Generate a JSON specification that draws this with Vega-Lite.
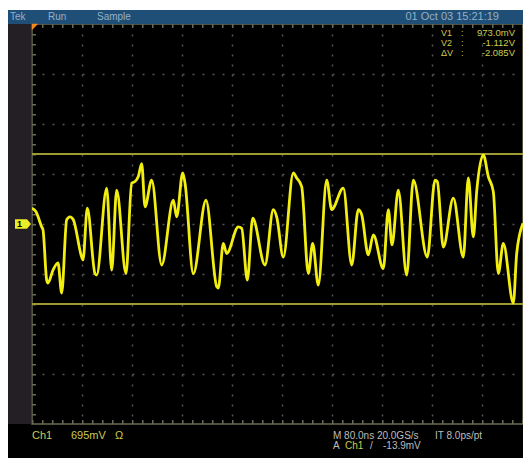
{
  "$schema": "https://vega.github.io/schema/vega-lite/v6.json",
  "width": 491,
  "height": 400,
  "autosize": {"type": "none"},
  "padding": {"left": 32, "top": 24, "right": 0, "bottom": 34},
  "background": "#000000",
  "config": {
    "view": {"stroke": "#6e6c52", "strokeWidth": 1.5, "fill": "#000000"},
    "axis": {"labels": false, "ticks": false, "domain": false, "titleOpacity": 0, "grid": true, "gridColor": "#555555", "gridDash": [2, 8], "gridWidth": 1.5},
    "text": {"font": "Liberation Sans Narrow, Liberation Sans"}
  },
  "datasets": {
    "wave": [
      {"t": 0, "v": 0.22}, {"t": 6.4, "v": 0.17}, {"t": 15.5, "v": -0.04}, {"t": 17.6, "v": -0.08},
      {"t": 23.5, "v": -0.78}, {"t": 25.6, "v": -0.82}, {"t": 33.6, "v": -0.64}, {"t": 41.6, "v": -0.54},
      {"t": 47.5, "v": -0.96}, {"t": 55.5, "v": 0.06}, {"t": 60.8, "v": 0.1}, {"t": 66.1, "v": 0.06},
      {"t": 79.5, "v": -0.46}, {"t": 81.6, "v": -0.5}, {"t": 88.5, "v": 0.22}, {"t": 100.8, "v": -0.69},
      {"t": 103.5, "v": -0.71}, {"t": 119.5, "v": 0.5}, {"t": 127.5, "v": -0.64}, {"t": 135.5, "v": 0.47},
      {"t": 150.4, "v": -0.69}, {"t": 159.5, "v": 0.57}, {"t": 164.8, "v": 0.59}, {"t": 170.1, "v": 0.66},
      {"t": 175.5, "v": 0.84}, {"t": 180.8, "v": 0.24}, {"t": 191.5, "v": 0.61}, {"t": 207.5, "v": -0.57},
      {"t": 226.1, "v": 0.33}, {"t": 231.5, "v": 0.1}, {"t": 241.1, "v": 0.71}, {"t": 244.8, "v": 0.57},
      {"t": 258.1, "v": -0.69}, {"t": 278.4, "v": 0.33}, {"t": 295.5, "v": -0.87}, {"t": 298.1, "v": -0.89},
      {"t": 306.1, "v": -0.27}, {"t": 311.5, "v": -0.41}, {"t": 330.1, "v": -0.04}, {"t": 335.5, "v": -0.06},
      {"t": 344.5, "v": -0.78}, {"t": 353.1, "v": 0.08}, {"t": 372.8, "v": -0.57}, {"t": 386.1, "v": 0.2},
      {"t": 391.5, "v": 0.1}, {"t": 402.1, "v": -0.46}, {"t": 418.1, "v": 0.71}, {"t": 423.5, "v": 0.64},
      {"t": 431.5, "v": 0.52}, {"t": 442.1, "v": -0.69}, {"t": 449.1, "v": -0.27}, {"t": 458.1, "v": -0.85},
      {"t": 471.5, "v": 0.61}, {"t": 479.5, "v": 0.2}, {"t": 498.1, "v": 0.5}, {"t": 511.5, "v": -0.57},
      {"t": 522.1, "v": 0.2}, {"t": 527.5, "v": 0.13}, {"t": 538.1, "v": -0.43}, {"t": 546.1, "v": -0.15},
      {"t": 562.1, "v": -0.62}, {"t": 570.1, "v": 0.2}, {"t": 576, "v": -0.29}, {"t": 586.1, "v": 0.47},
      {"t": 599.5, "v": -0.71}, {"t": 610.1, "v": 0.61}, {"t": 632.5, "v": -0.46}, {"t": 644.8, "v": 0.61},
      {"t": 648.5, "v": 0.59}, {"t": 658.1, "v": -0.32}, {"t": 674.1, "v": 0.36}, {"t": 690.1, "v": -0.46},
      {"t": 698.1, "v": 0.64}, {"t": 706.1, "v": -0.18}, {"t": 711.5, "v": 0.45}, {"t": 722.1, "v": 0.96},
      {"t": 730.1, "v": 0.66}, {"t": 738.1, "v": 0.45}, {"t": 746.1, "v": -0.69}, {"t": 754.1, "v": -0.27},
      {"t": 770.1, "v": -1.1}, {"t": 775.5, "v": -0.41}, {"t": 785.6, "v": 0.01}
    ],
    "cursors": [{"cursor": "V1", "level": 0.973}, {"cursor": "V2", "level": -1.112}],
    "one": [{}]
  },
  "layer": [
    {
      "data": {"name": "one"},
      "mark": {"type": "rect", "fill": "#ffffff", "clip": false},
      "encoding": {"x": {"datum": -60}, "x2": {"datum": 800}, "y": {"datum": 3.3}, "y2": {"datum": 2.9746}}
    },
    {
      "data": {"name": "one"},
      "mark": {"type": "rect", "fill": "#ffffff", "clip": false},
      "encoding": {"x": {"datum": -60}, "x2": {"datum": -38.4}, "y": {"datum": 3.3}, "y2": {"datum": -3.4}}
    },
    {
      "data": {"name": "one"},
      "mark": {"type": "rect", "fill": "#1f4e76", "clip": false},
      "encoding": {"x": {"datum": -38.4}, "x2": {"datum": 800}, "y": {"datum": 2.9746}, "y2": {"datum": 2.78}}
    },
    {
      "data": {"name": "one"},
      "mark": {"type": "rect", "fill": "#231f24", "clip": false},
      "encoding": {"x": {"datum": -38.4}, "x2": {"datum": -1}, "y": {"datum": 2.78}, "y2": {"datum": -2.78}}
    },
    {
      "data": {"name": "one"},
      "mark": {"type": "rule", "stroke": "#6a6a58", "strokeWidth": 8, "strokeDash": [1.5, 8.5], "clip": true},
      "encoding": {"x": {"datum": 0}, "x2": {"datum": 785.6}, "y": {"datum": 2.78}}
    },
    {
      "data": {"name": "one"},
      "mark": {"type": "rule", "stroke": "#6a6a58", "strokeWidth": 8, "strokeDash": [1.5, 8.5], "clip": true},
      "encoding": {"x": {"datum": 0}, "x2": {"datum": 785.6}, "y": {"datum": -2.78}}
    },
    {
      "data": {"name": "one"},
      "mark": {"type": "rule", "stroke": "#6a6a58", "strokeWidth": 8, "strokeDash": [1.5, 8.5], "clip": true},
      "encoding": {"x": {"datum": 0}, "y": {"datum": 2.78}, "y2": {"datum": -2.78}}
    },
    {
      "data": {"name": "cursors"},
      "mark": {"type": "rule", "stroke": "#9e9a34", "strokeWidth": 2},
      "encoding": {"y": {"field": "level", "type": "quantitative"}}
    },
    {
      "data": {"name": "wave"},
      "mark": {"type": "line", "color": "#f2ee10", "strokeWidth": 2.8, "strokeJoin": "round", "interpolate": "monotone", "clip": true},
      "encoding": {
        "x": {"field": "t", "type": "quantitative", "scale": {"domain": [0, 785.6], "nice": false, "zero": false},
              "axis": {"title": null, "values": [80, 160, 240, 320, 400, 480, 560, 640, 720]}},
        "y": {"field": "v", "type": "quantitative", "scale": {"domain": [-2.78, 2.78], "nice": false, "zero": false},
              "axis": {"title": null, "values": [-2.085, -1.39, -0.695, 0, 0.695, 1.39, 2.085]}}
      }
    },
    {
      "data": {"name": "one"},
      "mark": {"type": "point", "shape": "M -1 -1 L 1 -1 L -1 1 Z", "filled": true, "fill": "#f08a1c", "opacity": 1, "size": 40, "clip": false},
      "encoding": {"x": {"datum": 4.8}, "y": {"datum": 2.738}}
    },
    {
      "data": {"name": "one"},
      "mark": {"type": "point", "shape": "M -1 -0.6 L 0.5 -0.6 L 1 0 L 0.5 0.6 L -1 0.6 Z", "filled": true, "fill": "#ecec28", "opacity": 1, "size": 256, "clip": false},
      "encoding": {"x": {"datum": -14.4}, "y": {"datum": 0}}
    },
    {
      "data": {"name": "one"},
      "mark": {"type": "text", "text": "1", "fill": "#000000", "fontSize": 9, "fontWeight": "bold", "align": "center", "baseline": "middle", "clip": false},
      "encoding": {"x": {"datum": -20}, "y": {"datum": 0}}
    },
    {
      "data": {"name": "one"},
      "mark": {"type": "text", "text": "Tek", "fill": "#93b0c6", "fontSize": 10, "align": "left", "baseline": "middle", "clip": false},
      "encoding": {"x": {"datum": -35.2}, "y": {"datum": 2.8773}}
    },
    {
      "data": {"name": "one"},
      "mark": {"type": "text", "text": "Run", "fill": "#93b0c6", "fontSize": 10, "align": "left", "baseline": "middle", "clip": false},
      "encoding": {"x": {"datum": 25.6}, "y": {"datum": 2.8773}}
    },
    {
      "data": {"name": "one"},
      "mark": {"type": "text", "text": "Sample", "fill": "#93b0c6", "fontSize": 10, "align": "left", "baseline": "middle", "clip": false},
      "encoding": {"x": {"datum": 104}, "y": {"datum": 2.8773}}
    },
    {
      "data": {"name": "one"},
      "mark": {"type": "text", "text": "01 Oct 03 15:21:19", "fill": "#93b0c6", "fontSize": 11, "align": "right", "baseline": "middle", "clip": false},
      "encoding": {"x": {"datum": 747.2}, "y": {"datum": 2.8773}}
    },
    {
      "data": {"name": "one"},
      "mark": {"type": "text", "text": "V1", "fill": "#cccc50", "fontSize": 9, "align": "left", "baseline": "middle", "clip": false},
      "encoding": {"x": {"datum": 654.4}, "y": {"datum": 2.655}}
    },
    {
      "data": {"name": "one"},
      "mark": {"type": "text", "text": "V2", "fill": "#cccc50", "fontSize": 9, "align": "left", "baseline": "middle", "clip": false},
      "encoding": {"x": {"datum": 654.4}, "y": {"datum": 2.516}}
    },
    {
      "data": {"name": "one"},
      "mark": {"type": "text", "text": "ΔV", "fill": "#cccc50", "fontSize": 9, "align": "left", "baseline": "middle", "clip": false},
      "encoding": {"x": {"datum": 654.4}, "y": {"datum": 2.377}}
    },
    {
      "data": {"name": "one"},
      "mark": {"type": "text", "text": ":", "fill": "#cccc50", "fontSize": 9, "align": "left", "baseline": "middle", "clip": false},
      "encoding": {"x": {"datum": 686.4}, "y": {"datum": 2.655}}
    },
    {
      "data": {"name": "one"},
      "mark": {"type": "text", "text": ":", "fill": "#cccc50", "fontSize": 9, "align": "left", "baseline": "middle", "clip": false},
      "encoding": {"x": {"datum": 686.4}, "y": {"datum": 2.516}}
    },
    {
      "data": {"name": "one"},
      "mark": {"type": "text", "text": ":", "fill": "#cccc50", "fontSize": 9, "align": "left", "baseline": "middle", "clip": false},
      "encoding": {"x": {"datum": 686.4}, "y": {"datum": 2.377}}
    },
    {
      "data": {"name": "one"},
      "mark": {"type": "text", "text": "973.0mV", "fill": "#cccc50", "fontSize": 9.5, "align": "right", "baseline": "middle", "clip": false},
      "encoding": {"x": {"datum": 772.8}, "y": {"datum": 2.655}}
    },
    {
      "data": {"name": "one"},
      "mark": {"type": "text", "text": "-1.112V", "fill": "#cccc50", "fontSize": 9.5, "align": "right", "baseline": "middle", "clip": false},
      "encoding": {"x": {"datum": 772.8}, "y": {"datum": 2.516}}
    },
    {
      "data": {"name": "one"},
      "mark": {"type": "text", "text": "-2.085V", "fill": "#cccc50", "fontSize": 9.5, "align": "right", "baseline": "middle", "clip": false},
      "encoding": {"x": {"datum": 772.8}, "y": {"datum": 2.377}}
    },
    {
      "data": {"name": "one"},
      "mark": {"type": "text", "text": "Ch1", "fill": "#cccc50", "fontSize": 11, "align": "left", "baseline": "middle", "clip": false},
      "encoding": {"x": {"datum": 0}, "y": {"datum": -2.947}}
    },
    {
      "data": {"name": "one"},
      "mark": {"type": "text", "text": "695mV", "fill": "#cccc50", "fontSize": 11, "align": "left", "baseline": "middle", "clip": false},
      "encoding": {"x": {"datum": 62.4}, "y": {"datum": -2.947}}
    },
    {
      "data": {"name": "one"},
      "mark": {"type": "text", "text": "Ω", "fill": "#cccc50", "fontSize": 11, "align": "left", "baseline": "middle", "clip": false},
      "encoding": {"x": {"datum": 132.8}, "y": {"datum": -2.947}}
    },
    {
      "data": {"name": "one"},
      "mark": {"type": "text", "text": "M 80.0ns 20.0GS/s", "fill": "#bdbdbd", "fontSize": 10, "align": "left", "baseline": "middle", "clip": false},
      "encoding": {"x": {"datum": 481.6}, "y": {"datum": -2.947}}
    },
    {
      "data": {"name": "one"},
      "mark": {"type": "text", "text": "IT 8.0ps/pt", "fill": "#bdbdbd", "fontSize": 10, "align": "left", "baseline": "middle", "clip": false},
      "encoding": {"x": {"datum": 644.8}, "y": {"datum": -2.947}}
    },
    {
      "data": {"name": "one"},
      "mark": {"type": "text", "text": "A", "fill": "#bdbdbd", "fontSize": 10, "align": "left", "baseline": "middle", "clip": false},
      "encoding": {"x": {"datum": 481.6}, "y": {"datum": -3.086}}
    },
    {
      "data": {"name": "one"},
      "mark": {"type": "text", "text": "Ch1", "fill": "#cccc50", "fontSize": 10, "align": "left", "baseline": "middle", "clip": false},
      "encoding": {"x": {"datum": 500.8}, "y": {"datum": -3.086}}
    },
    {
      "data": {"name": "one"},
      "mark": {"type": "text", "text": "/", "fill": "#bdbdbd", "fontSize": 10, "align": "left", "baseline": "middle", "clip": false},
      "encoding": {"x": {"datum": 540.8}, "y": {"datum": -3.086}}
    },
    {
      "data": {"name": "one"},
      "mark": {"type": "text", "text": "-13.9mV", "fill": "#bdbdbd", "fontSize": 10, "align": "left", "baseline": "middle", "clip": false},
      "encoding": {"x": {"datum": 561.6}, "y": {"datum": -3.086}}
    }
  ]
}
